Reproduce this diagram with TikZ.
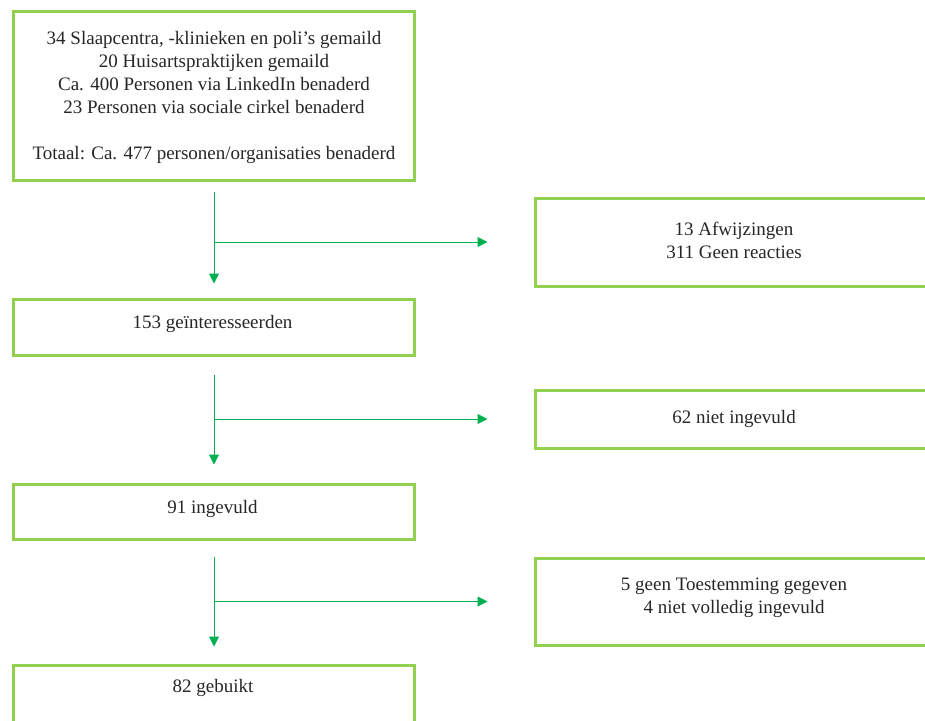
\documentclass[tikz,border=0pt]{standalone}
\usepackage{fontspec}
\setmainfont{Liberation Serif}
\usetikzlibrary{arrows.meta}
\definecolor{boxgreen}{HTML}{92D050}
\definecolor{arrowgreen}{HTML}{00B050}
\tikzset{
  box/.style={draw=boxgreen, line width=3pt, minimum width=401pt, inner sep=0pt, anchor=north west},
  rbox/.style={draw=boxgreen, line width=3pt, minimum width=404pt, inner sep=0pt, anchor=north west},
  txt/.style={font=\fontsize{19}{23}\selectfont, align=center, text=black!85, inner sep=0pt},
  flow/.style={draw=arrowgreen, line width=1pt, -{Triangle[length=10pt, width=10pt]}}
}
\begin{document}
\begin{tikzpicture}[x=1pt, y=-1pt]
\useasboundingbox (0,0) rectangle (925,720);
\clip (0,0) rectangle (925,720);
% left column boxes
\node[box, minimum height=169pt] (b1) at (12,9.5) {};
\node[txt] (t1) at ([yshift=-2pt]b1.center) {34 Slaapcentra, -klinieken en poli’s gemaild\\20 Huisartspraktijken gemaild\\Ca. 400 Personen via LinkedIn benaderd\\23 Personen via sociale cirkel benaderd\\[23pt]Totaal: Ca. 477 personen/organisaties benaderd};
\node[box, minimum height=56pt] (b2) at (12,297.5) {};
\node[txt] (t2) at (212.5,324) {153 geïnteresseerden};
\node[box, minimum height=55pt] (b3) at (12,482.5) {};
\node[txt] (t3) at (212.5,509) {91 ingevuld};
\node[box, minimum height=80pt] (b4) at (12,663.5) {};
\node[txt] (t4) at (213,688) {82 gebuikt};
% right column boxes
\node[rbox, minimum height=88pt] (r1) at (533.5,196.5) {};
\node[txt] (s1) at (734,240) {13 Afwijzingen\\311 Geen reacties};
\node[rbox, minimum height=58pt] (r2) at (533.5,388.5) {};
\node[txt] (s2) at (734,419) {62 niet ingevuld};
\node[rbox, minimum height=87pt] (r3) at (533.5,556.5) {};
\node[txt] (s3) at (734,598) {5 geen Toestemming gegeven\\4 niet volledig ingevuld};
% connectors
\draw[flow] ([yshift=-10pt]b1.south) -- ([yshift=14pt]b2.north);
\coordinate (j1) at (b1.south |- r1.west);
\draw[flow] (j1) -- ([xshift=-46pt]r1.west);
\draw[flow] ([yshift=-18pt]b2.south) -- ([yshift=18pt]b3.north);
\coordinate (j2) at (b2.south |- r2.west);
\draw[flow] (j2) -- ([xshift=-46pt]r2.west);
\draw[flow] ([yshift=-16pt]b3.south) -- ([yshift=17pt]b4.north);
\coordinate (j3) at (b3.south |- r3.west);
\draw[flow] (j3) -- ([xshift=-46pt]r3.west);
\end{tikzpicture}
\end{document}
